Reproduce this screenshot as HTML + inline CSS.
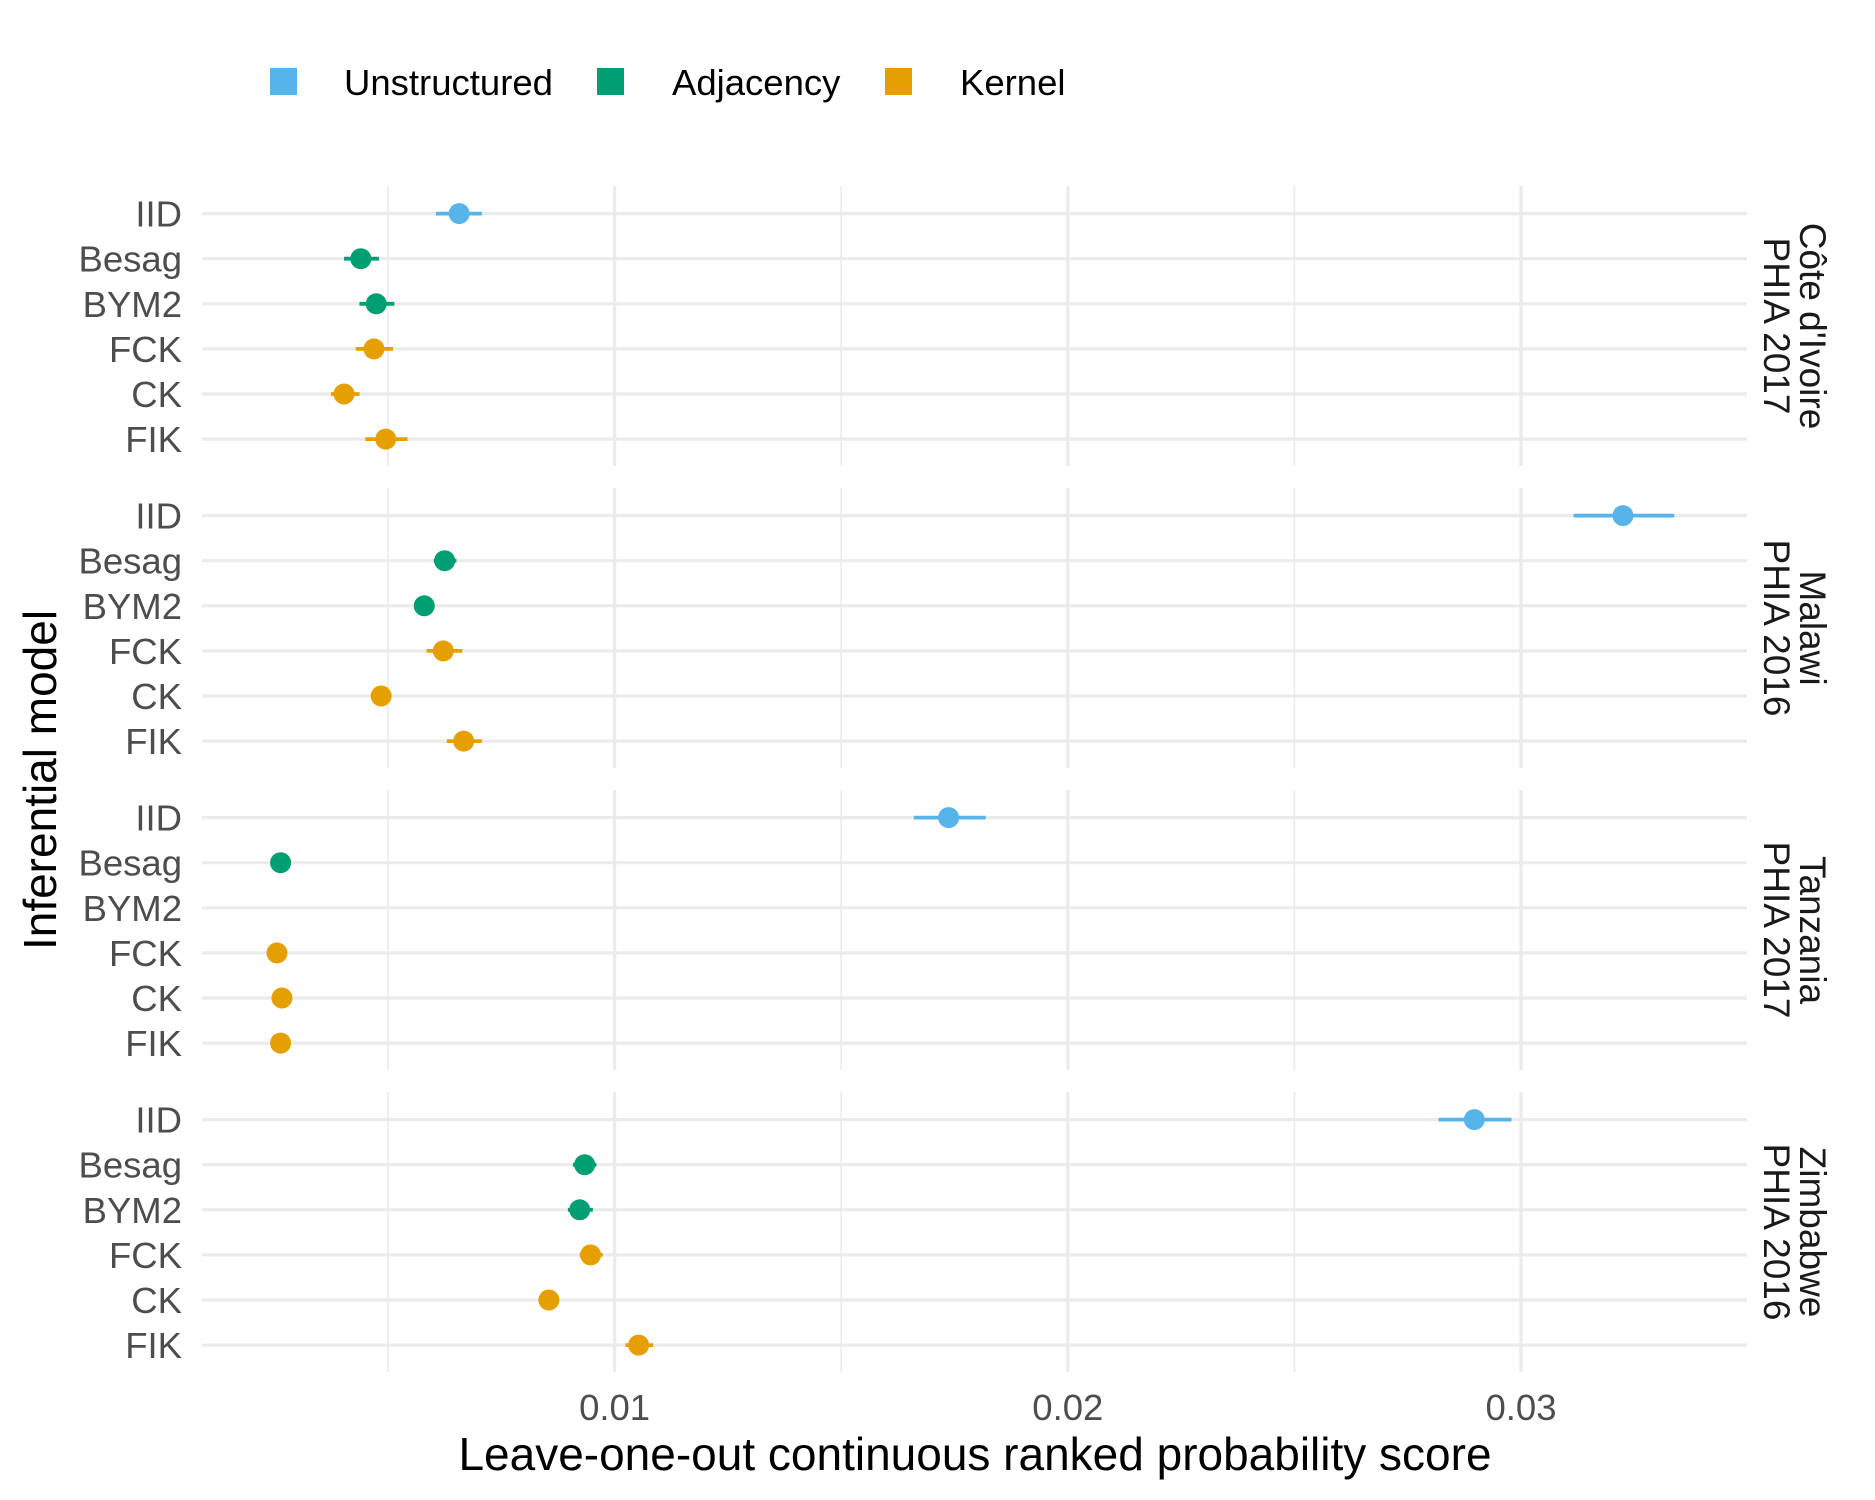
<!DOCTYPE html>
<html><head><meta charset="utf-8"><style>
html,body{margin:0;padding:0;background:#fff}
svg{display:block;font-family:"Liberation Sans",sans-serif}
</style></head><body>
<svg id="chart" width="1875" height="1500" viewBox="0 0 1875 1500" xmlns="http://www.w3.org/2000/svg">
<g>
 <rect x="270" y="68" width="27" height="27" fill="#56B4E9"/>
 <text x="344" y="95" font-size="36.5" fill="#000">Unstructured</text>
 <rect x="597" y="68" width="27" height="27" fill="#009E73"/>
 <text x="672" y="95" font-size="36.5" fill="#000">Adjacency</text>
 <rect x="885" y="68" width="27" height="27" fill="#E69F00"/>
 <text x="960" y="95" font-size="36.5" fill="#000">Kernel</text>
</g>
<g id="panels"></g>
<text x="975" y="1470" font-size="46" text-anchor="middle" fill="#000">Leave-one-out continuous ranked probability score</text>
<text transform="translate(56,780) rotate(-90)" font-size="46" text-anchor="middle" fill="#000">Inferential model</text>
</svg>
<script>
const models = ["IID","Besag","BYM2","FCK","CK","FIK"];
const modelGroup = ["Unstructured","Adjacency","Adjacency","Kernel","Kernel","Kernel"];
const surveys = ["Côte d'Ivoire|PHIA 2017","Malawi|PHIA 2016","Tanzania|PHIA 2017","Zimbabwe|PHIA 2016"];
const xTicks = [0.01,0.02,0.03];
const xTickLabels = ["0.01","0.02","0.03"];
const xMinor = [0.005,0.015,0.025];
const meanCote = [0.00657,0.0044,0.00474,0.00469,0.00403,0.00495];
const lowerCote = [0.00606,0.00403,0.00437,0.00429,0.00374,0.0045];
const upperCote = [0.00707,0.0048,0.00514,0.00511,0.00437,0.00543];
const meanMalawi = [0.03225,0.00625,0.0058,0.00622,0.00485,0.00667];
const lowerMalawi = [0.03116,0.00601,0.00564,0.00585,0.00485,0.0063];
const upperMalawi = [0.03338,0.00651,0.00596,0.00664,0.00485,0.00707];
const meanTanzania = [0.01737,0.00263,null,0.00255,0.00266,0.00263];
const lowerTanzania = [0.0166,0.00263,null,0.00255,0.00266,0.00263];
const upperTanzania = [0.01819,0.00263,null,0.00255,0.00266,0.00263];
const meanZim = [0.02897,0.00934,0.00923,0.00947,0.00855,0.01053];
const lowerZim = [0.02818,0.00908,0.00897,0.00923,0.00834,0.01024];
const upperZim = [0.02979,0.0096,0.00952,0.00974,0.00876,0.01085];

const means=[meanCote,meanMalawi,meanTanzania,meanZim];
const lows=[lowerCote,lowerMalawi,lowerTanzania,lowerZim];
const ups=[upperCote,upperMalawi,upperTanzania,upperZim];
const colors={Unstructured:"#56B4E9",Adjacency:"#009E73",Kernel:"#E69F00"};
const NS="http://www.w3.org/2000/svg";
const L=202,R=1747;
const x=v=>161.4+v*45320;
const panelTop=[186,488,790,1092], panelH=280, rowStep=45.1, row0=27.6;
const root=document.getElementById('panels');
function mk(tag,attrs,parent){const e=document.createElementNS(NS,tag);for(const k in attrs)e.setAttribute(k,attrs[k]);parent.appendChild(e);return e;}
surveys.forEach((s,p)=>{
 const top=panelTop[p];
 const g=mk('g',{},root);
 
 
 xMinor.forEach(v=>{const l=mk('line',{x1:x(v),x2:x(v),y1:top,y2:top+panelH,stroke:"#ebebeb","stroke-width":1.6},g);
  
  });
 xTicks.forEach(v=>{const l=mk('line',{x1:x(v),x2:x(v),y1:top,y2:top+panelH,stroke:"#ebebeb","stroke-width":3.2},g);
  
  });
 models.forEach((m,i)=>{
  const y=top+row0+i*rowStep;
  const gl=mk('line',{x1:L,x2:R,y1:y,y2:y,stroke:"#ebebeb","stroke-width":3.2},g);
  
  
  const t=mk('text',{x:182,y:y+13,"font-size":36.5,"text-anchor":"end",fill:"#4d4d4d"},g);
  t.textContent=m;
  
  
 });
 models.forEach((m,i)=>{
  const v=means[p][i]; if(v==null) return;
  const y=top+row0+i*rowStep, c=colors[modelGroup[i]];
  const eb=mk('line',{x1:x(lows[p][i]),x2:x(ups[p][i]),y1:y,y2:y,stroke:c,"stroke-width":3.8},g);
  
  
  const pt=mk('circle',{cx:x(v),cy:y,r:10.5,fill:c},g);
  
  
 });
 const parts=s.split('|'), cy=top+panelH/2;
 const s1=mk('text',{transform:`translate(1800,${cy}) rotate(90)`,"font-size":37,"text-anchor":"middle",fill:"#1a1a1a"},g);
 s1.textContent=parts[0];
 
 
 const s2=mk('text',{transform:`translate(1764,${cy}) rotate(90)`,"font-size":37,"text-anchor":"middle",fill:"#1a1a1a"},g);
 s2.textContent=parts[1];
 
 
});
xTicks.forEach((v,i)=>{
 const t=mk('text',{x:x(v),y:1420,"font-size":36.5,"text-anchor":"middle",fill:"#4d4d4d"},root);
 t.textContent=xTickLabels[i];
 
 
});
</script>
</body></html>
